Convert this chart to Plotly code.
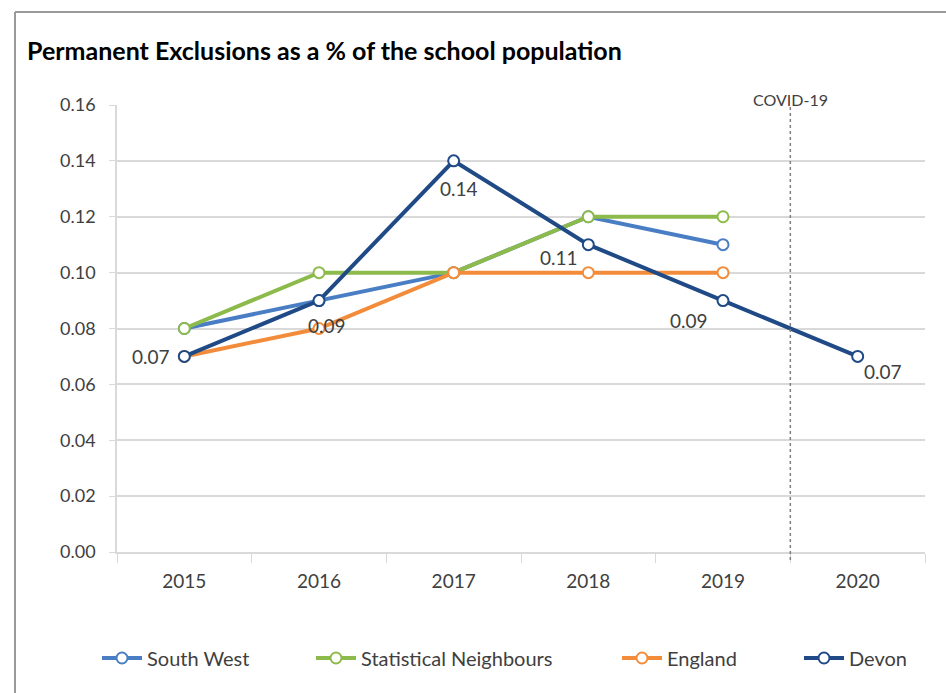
import plotly.graph_objects as go

years = ["2015", "2016", "2017", "2018", "2019", "2020"]
south_west = [0.08, 0.09, 0.10, 0.12, 0.11, None]
stat_neighbours = [0.08, 0.10, 0.10, 0.12, 0.12, None]
england = [0.07, 0.08, 0.10, 0.10, 0.10, None]
devon = [0.07, 0.09, 0.14, 0.11, 0.09, 0.07]
devon_labels = ["0.07", "0.09", "0.14", "0.11", "0.09", "0.07"]
y_ticks = [0.00, 0.02, 0.04, 0.06, 0.08, 0.10, 0.12, 0.14, 0.16]

FONT = "Lato, Open Sans, sans-serif"

# plot area in pixels
L, R, T, B = 117, 925, 105, 552
W, H = 946, 693
PW, PH = R - L, B - T

def px_x(px):
    return (px - L) / PW

def px_y(py):
    return (B - py) / PH

fig = go.Figure()

legend_text_left = [147, 361, 667, 849]
legend_names = ["legend", "legend2", "legend3", "legend4"]

def add_series(name, vals, color, lg):
    fig.add_trace(go.Scatter(
        x=years, y=vals, name=name, mode="lines+markers",
        line=dict(color=color, width=4),
        marker=dict(size=11, color="white", line=dict(color=color, width=2)),
        cliponaxis=False, legend=lg,
    ))

add_series("South West", south_west, "#4A7EC4", legend_names[0])
add_series("Statistical Neighbours", stat_neighbours, "#8DBB4B", legend_names[1])
add_series("England", england, "#F38C3A", legend_names[2])
add_series("Devon", devon, "#1F4A86", legend_names[3])

# Devon data labels (offsets in screen px from each point; positive dy = downwards)
label_shifts = [(-33, 0), (8, 25), (5, 28), (-29, 13), (-34, 20), (25, 15)]
for i, (v, lab, (dx, dy)) in enumerate(zip(devon, devon_labels, label_shifts)):
    fig.add_annotation(x=i, y=v, xref="x", yref="y", text=lab, showarrow=False,
                       xshift=dx, yshift=-dy,
                       font=dict(size=19, color="#404040", family=FONT))

# COVID-19 divider
fig.add_shape(type="line", xref="x", yref="paper", x0=4.5, x1=4.5,
              y0=px_y(560), y1=px_y(105),
              line=dict(color="#7f7f7f", width=1.5, dash="dot"))
fig.add_annotation(x=4.5, xref="x", y=px_y(88), yref="paper", text="COVID-19",
                   showarrow=False, font=dict(size=16, color="#404040", family=FONT))

# outer chart frame (top and left edges visible)
fig.add_shape(type="line", xref="paper", yref="paper",
              x0=px_x(15), x1=px_x(W + 5), y0=px_y(12), y1=px_y(12),
              line=dict(color="#9a9a9a", width=2))
fig.add_shape(type="line", xref="paper", yref="paper",
              x0=px_x(15), x1=px_x(15), y0=px_y(12), y1=px_y(H + 5),
              line=dict(color="#9a9a9a", width=2))

legend_common = dict(orientation="h", xanchor="left", y=px_y(658), yanchor="middle",
                     font=dict(size=20, color="#404040", family=FONT),
                     itemwidth=40, borderwidth=0, bgcolor="rgba(0,0,0,0)")
legends = {}
for lg, tx in zip(legend_names, legend_text_left):
    legends[lg] = dict(legend_common, x=px_x(tx - 50))

fig.update_layout(
    width=W, height=H,
    margin=dict(l=L, r=W - R, t=T, b=H - B),
    paper_bgcolor="white", plot_bgcolor="white",
    font=dict(family=FONT, color="#404040", size=18),
    title=dict(text="<b>Permanent Exclusions as a % of the school population</b>",
               x=27 / W, xanchor="left", y=1 - 51 / H, yanchor="middle",
               font=dict(size=25, color="#000000", family=FONT)),
    showlegend=True,
    xaxis=dict(type="category", range=[-0.5, 5.5], showgrid=False,
               showline=True, linecolor="#d9d9d9", linewidth=1.5,
               ticks="outside", tickson="boundaries", ticklen=9, tickcolor="#d9d9d9",
               ticklabelstandoff=11,
               tickfont=dict(size=19, color="#404040")),
    yaxis=dict(range=[0, 0.16], tickvals=y_ticks, tickformat=".2f",
               showgrid=True, gridcolor="#d9d9d9", gridwidth=1.5,
               showline=True, linecolor="#d9d9d9", linewidth=1.5,
               ticks="outside", ticklen=6, tickcolor="#d9d9d9",
               ticklabelstandoff=10,
               zeroline=False, tickfont=dict(size=18, color="#404040")),
    **legends,
)

fig.write_html("out.html")
